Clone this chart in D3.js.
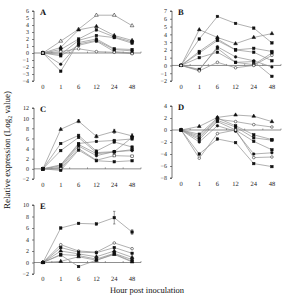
<!DOCTYPE html>
<html><head><meta charset="utf-8">
<script src="https://cdn.jsdelivr.net/npm/d3@7"></script>
<style>body{margin:0;background:#fff}svg{display:block;text-rendering:geometricPrecision}text{font-family:"Liberation Serif","Times New Roman",serif}</style>
</head><body><svg id="c" width="288" height="300"></svg>
<script>
const hours = ["0","1","6","12","24","48"];

const seriesA = [
  [0, 1.7, 3.4, 5.4, 5.4, 3.9],
  [0, 0.8, 3.3, 3.8, 2.5, 1.8],
  [0, 0.5, 2.0, 3.3, 2.3, 1.6],
  [0, -0.2, 1.8, 2.5, 2.2, 1.4],
  [0, -2.6, 1.5, 2.0, 0.6, 0.5],
  [0, -1.6, 1.3, 1.8, 0.5, 0.3],
  [0, -0.4, 1.1, 1.7, 0.2, 0.0],
  [0, 0.2, 0.6, 0.2, 0.1, -0.1]
];
const seriesB = [
  [0, 3.4, 6.3, 5.4, 4.8, 2.9],
  [0, 4.6, 3.6, 2.8, 3.6, 4.1],
  [0, 1.8, 3.4, 2.0, 2.2, 1.8],
  [0, 1.6, 3.2, 2.0, 1.7, 0.6],
  [0, 1.0, 1.7, 0.4, 0.5, -1.4],
  [0, -0.6, 2.4, 1.1, 0.6, -0.2],
  [0, -0.5, 2.2, 0.4, 0.1, 1.6],
  [0, -0.7, 0.4, -0.3, 0.0, 1.3]
];
const seriesC = [
  [0, 7.8, 9.4, 6.4, 7.4, 6.5],
  [0, 5.0, 6.6, 3.5, 5.3, 4.3],
  [0, 3.6, 6.2, 3.2, 3.4, 6.2],
  [0, 0.8, 5.0, 5.4, 5.6, 5.9],
  [0, 0.6, 4.8, 3.0, 3.3, 3.8],
  [0, 0.3, 4.5, 2.6, 3.4, 3.6],
  [0, 0.0, 4.0, 1.7, 2.6, 2.5],
  [0, -0.3, 3.7, 1.6, 1.4, 1.6]
];
const seriesD = [
  [0, 0.6, 2.1, 2.5, 2.3, 1.4],
  [0, -1.0, 1.8, 1.4, 0.9, 0.5],
  [0, -0.7, 2.0, 0.7, -0.8, -1.6],
  [0, -1.3, 1.6, 0.5, -1.3, -1.7],
  [0, -1.6, 1.4, 0.0, -1.9, -3.3],
  [0, -2.0, 0.7, -0.2, -4.0, -3.8],
  [0, -4.7, -0.6, 0.0, -4.6, -4.5],
  [0, -4.0, -1.5, -2.1, -5.6, -6.1]
];
const seriesE = [
  [0, 6.0, 6.8, 6.7, 7.8, 5.3],
  [0, 3.1, 2.0, 1.8, 3.4, 2.4],
  [0, 2.6, 1.8, 1.7, 2.6, 1.6],
  [0, 2.0, 1.5, 1.0, 2.0, 0.9],
  [0, 1.4, 1.2, 0.6, 1.6, 0.5],
  [0, 1.3, -0.7, 0.4, 1.5, 0.2],
  [0, 0.2, 1.0, 0.4, 1.4, 0.1]
];
const errC = [0, 0, 0.3, 0.3, 0.4, 0.4];
const errE = [0, 0.1, 0.1, 0.1, 1.1, 0.4];

const yTicksA = d3.range(-4, 7, 1);
const yTicksB = d3.range(-2, 8, 1);
const yTicksC = d3.range(-2, 13, 2);
const yTicksD = d3.range(-8, 5, 2);
const yTicksE = d3.range(-2, 11, 2);

const markersA = ["triangleOpen","triangle","square","square","square","circle","square","circleOpen"];
const markersB = ["square","triangle","square","square","square","circle","square","circleOpen"];
const markersC = ["triangle","square","square","square","square","circle","squareOpen","square"];
const markersD = ["triangle","circleOpen","square","square","square","circle","circleOpen","square"];
const markersE = ["square","circleOpen","square","triangle","square","square","triangle"];

const panels = [
  {label:"A", data:seriesA, mk:markersA, ticks:yTicksA, dom:[-4,6], xr:[34,141], yr:[81,11], ly:90, err:null},
  {label:"B", data:seriesB, mk:markersB, ticks:yTicksB, dom:[-2,7], xr:[172,281], yr:[81,11], ly:90, err:null},
  {label:"C", data:seriesC, mk:markersC, ticks:yTicksC, dom:[-2,12], xr:[34,141], yr:[179,108], ly:188, err:errC},
  {label:"D", data:seriesD, mk:markersD, ticks:yTicksD, dom:[-8,4], xr:[172,281], yr:[178,106], ly:187, err:null},
  {label:"E", data:seriesE, mk:markersE, ticks:yTicksE, dom:[-2,10], xr:[34,141], yr:[274,205], ly:282, err:errE}
];

const svg = d3.select("#c");
const lineCol = "#8f8f8f";

function drawMarker(g, type, x, y){
  const s = 1.25;
  const open = type.endsWith("Open");
  const fill = open ? "#fff" : "#111";
  if (type.startsWith("triangle")) {
    g.append("path").attr("d", d3.symbol(d3.symbolTriangle, 6)()).attr("transform",`translate(${x},${y})`)
      .attr("fill", fill).attr("stroke","#111").attr("stroke-width",0.5);
  } else if (type.startsWith("square")) {
    g.append("rect").attr("x",x-s).attr("y",y-s).attr("width",2*s).attr("height",2*s)
      .attr("fill", fill).attr("stroke","#111").attr("stroke-width",0.5);
  } else {
    g.append("circle").attr("cx",x).attr("cy",y).attr("r",1.3)
      .attr("fill", fill).attr("stroke","#111").attr("stroke-width",0.5);
  }
}

panels.forEach(p => {
  const g = svg.append("g");
  const x = d3.scaleBand().domain(hours).range(p.xr).padding(0);
  const y = d3.scaleLinear().domain(p.dom).range(p.yr);
  const cx = h => x(h) + x.bandwidth()/2;

  const ya = g.append("g").attr("transform",`translate(${p.xr[0]},0)`)
    .call(d3.axisLeft(y).tickValues(p.ticks).tickSize(2).tickPadding(3).tickFormat(d3.format("d")));
  ya.select(".domain").attr("stroke","#333").attr("stroke-width",0.7).attr("d",`M-2,${p.yr[0]}H0V${p.yr[1]}H-2`);
  ya.selectAll(".tick line").attr("stroke","#333").attr("stroke-width",0.6);
  ya.selectAll("text").attr("font-size",6).attr("fill","#222").attr("font-family","Liberation Serif, serif");

  const y0 = y(0);
  g.append("line").attr("x1",p.xr[0]).attr("x2",p.xr[1]).attr("y1",y0).attr("y2",y0)
    .attr("stroke","#444").attr("stroke-width",0.6);
  hours.forEach((h,i) => {
    if (i>0) g.append("line").attr("x1",x(h)).attr("x2",x(h)).attr("y1",y0).attr("y2",y0-1.5)
      .attr("stroke","#444").attr("stroke-width",0.5);
  });
  g.append("line").attr("x1",p.xr[1]).attr("x2",p.xr[1]).attr("y1",y0).attr("y2",y0-1.5)
      .attr("stroke","#444").attr("stroke-width",0.5);
  const xa = g.append("g").attr("transform",`translate(0,${p.ly-6})`)
    .call(d3.axisBottom(x).tickSize(0).tickPadding(0));
  xa.select(".domain").remove();
  xa.selectAll("text").attr("font-size",6.5).attr("fill","#222").attr("font-family","Liberation Serif, serif");

  g.append("text").attr("x",p.xr[0]+6).attr("y",p.yr[1]+4).attr("font-size",8.5)
    .attr("font-weight","bold").attr("fill","#111").text(p.label);

  const line = d3.line().x((d,i)=>cx(hours[i])).y(d=>y(d));
  p.data.forEach((s,si) => {
    g.append("path").attr("d", line(s)).attr("fill","none").attr("stroke",lineCol).attr("stroke-width",0.7);
    if (si===0 && p.err) {
      s.forEach((v,i)=>{
        const e = p.err[i]; if(!e) return;
        const xx = cx(hours[i]);
        g.append("line").attr("x1",xx).attr("x2",xx).attr("y1",y(v-e)).attr("y2",y(v+e)).attr("stroke","#333").attr("stroke-width",0.5);
        [v-e,v+e].forEach(w=>g.append("line").attr("x1",xx-1.2).attr("x2",xx+1.2).attr("y1",y(w)).attr("y2",y(w)).attr("stroke","#333").attr("stroke-width",0.5));
      });
    }
  });
  p.data.forEach((s,si) => {
    s.forEach((v,i)=>drawMarker(g, p.mk[si % p.mk.length], cx(hours[i]), y(v)));
  });
});

svg.append("text").attr("x",147).attr("y",293).attr("text-anchor","middle")
  .attr("font-size",8.5).attr("fill","#111").text("Hour post inoculation");

const yt = svg.append("text").attr("transform","translate(10,150) rotate(-90)").attr("text-anchor","middle")
  .attr("font-size",9).attr("fill","#111");
yt.append("tspan").text("Relative expression (Log");
yt.append("tspan").attr("font-size",6).attr("dy",2).text("2");
yt.append("tspan").attr("dy",-2).text(" value)");
</script></body></html>
